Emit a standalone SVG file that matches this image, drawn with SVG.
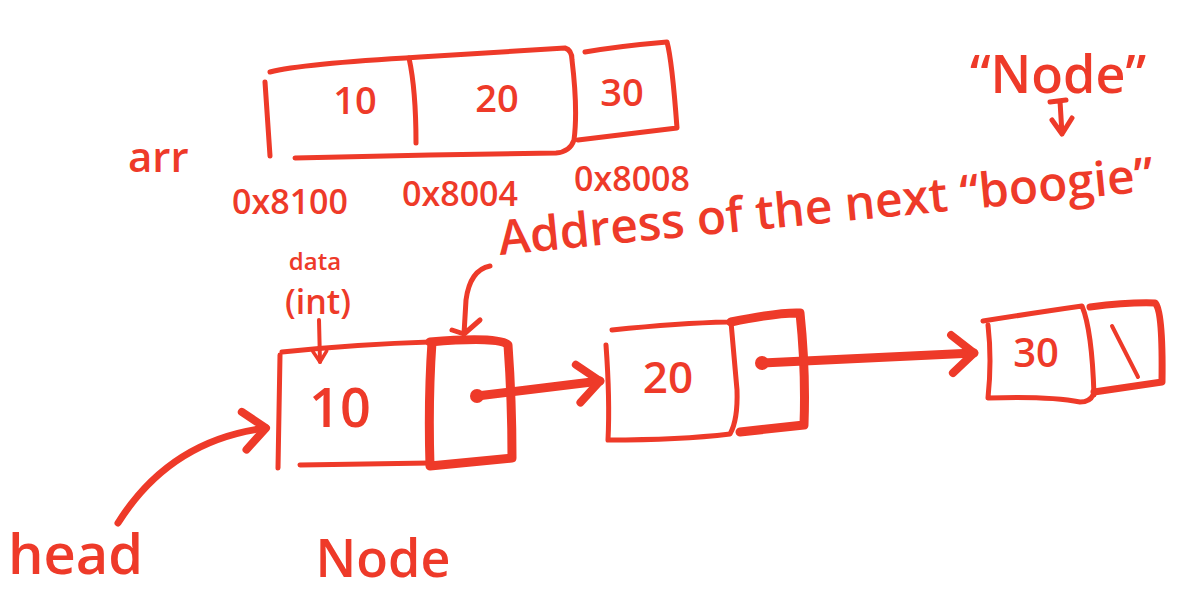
<svg xmlns="http://www.w3.org/2000/svg" width="1199" height="590" viewBox="0 0 1199 590">
<style>
.ln{fill:none;stroke:#EE3A29;stroke-linecap:round;stroke-linejoin:round}
.t{fill:#EE3A29;font-family:"Open Sans","Liberation Sans",sans-serif;font-weight:600}
.w4{stroke-width:4}.w5{stroke-width:5}.w7{stroke-width:7}.w9{stroke-width:9}
</style>
<defs>
<marker id="ah" markerUnits="userSpaceOnUse" markerWidth="40" markerHeight="50" refX="30" refY="25" orient="auto" viewBox="0 0 40 50">
<path d="M8,6 L30,25 L8,44" fill="none" stroke="#EE3A29" stroke-width="8" stroke-linecap="round" stroke-linejoin="round"/>
</marker>
<marker id="ahs" markerUnits="userSpaceOnUse" markerWidth="20" markerHeight="20" refX="15" refY="10" orient="auto" viewBox="0 0 20 20">
<path d="M4,3 L15,10 L4,17" fill="none" stroke="#EE3A29" stroke-width="3.5" stroke-linecap="round" stroke-linejoin="round"/>
</marker>
</defs>
<rect width="1199" height="590" fill="#FFFFFF"/>

<g id="array">
<path class="ln w5" d="M270,72 Q300,64 420,57 L565,48 Q572,50 572,60 Q578,110 574,140 Q570,152 556,153 L430,155 L295,158"/>
<path class="ln w5" d="M265,82 L270,156"/>
<path class="ln w5" d="M409,58 Q416,90 416,143"/>
<path class="ln w5" d="M585,52 Q620,46 667,42 Q672,60 677,128 L578,140"/>
<text class="t" x="355" y="114" font-size="38" text-anchor="middle">10</text>
<text class="t" x="497" y="112" font-size="38" text-anchor="middle">20</text>
<text class="t" x="622" y="106" font-size="38" text-anchor="middle">30</text>
<text class="t" x="128" y="172" font-size="42">arr</text>
<text class="t" x="290" y="214" font-size="34" font-weight="bold" text-anchor="middle">0x8100</text>
<text class="t" x="460" y="206" font-size="34" font-weight="bold" text-anchor="middle">0x8004</text>
<text class="t" x="632" y="191" font-size="34" font-weight="bold" text-anchor="middle">0x8008</text>
</g>

<g id="node-label-top">
<text class="t" x="1058" y="93" font-size="52" text-anchor="middle">“Node”</text>
<path class="ln w5" d="M1050,102 L1066,100 M1060,101 L1062,134 M1052,120 L1062,134 L1072,118"/>
<text class="t" transform="translate(500,255) rotate(-5.6)" font-size="48">Address of the next “boogie”</text>
</g>

<g id="node1">
<path class="ln w5" d="M282,352 Q360,344 430,342"/>
<path class="ln w5" d="M280,355 L278,468"/>
<path class="ln w5" d="M300,465 L430,463"/>
<path class="ln w9" d="M430,342 Q500,336 508,345 Q512,400 512,458 L430,466 Q428,400 432,342"/>
<text class="t" x="340" y="427" font-size="54" text-anchor="middle">10</text>
<circle cx="477" cy="396" r="7" fill="#EE3A29"/>
<text class="t" x="315" y="270" font-size="24" text-anchor="middle">data</text>
<text class="t" x="318" y="314" font-size="34" text-anchor="middle">(int)</text>
<text class="t" x="383" y="577" font-size="52" text-anchor="middle">Node</text>
</g>

<g id="node2">
<path class="ln w5" d="M612,330 Q680,323 728,322 L740,320"/>
<path class="ln w5" d="M606,345 Q610,400 608,440 Q680,440 730,434 Q738,420 737,390 L731,322"/>
<path class="ln w9" d="M731,322 Q780,312 800,313 Q806,370 804,425 L740,432"/>
<text class="t" x="668" y="393" font-size="44" text-anchor="middle">20</text>
<circle cx="762" cy="363" r="7" fill="#EE3A29"/>
</g>

<g id="node3">
<path class="ln w5" d="M983,321 Q1040,312 1082,306 Q1092,330 1094,395"/>
<path class="ln w5" d="M988,325 Q992,360 988,398 Q1050,396 1080,402 Q1090,402 1093,395"/>
<path class="ln w7" d="M1090,307 Q1130,302 1155,303 Q1163,310 1162,382 L1094,392"/>
<text class="t" x="1036" y="367" font-size="40" text-anchor="middle">30</text>
<path class="ln w4" d="M1112,326 L1138,377"/>
</g>

<g id="connectors">
<path class="ln w9" d="M477,396 L600,381" marker-end="url(#ah)"/>
<path class="ln w9" d="M762,363 L974,353" marker-end="url(#ah)"/>
<path class="ln w7" d="M118,523 Q170,440 266,428" marker-end="url(#ah)"/>
<path class="ln w4" d="M319,320 L320,362" marker-end="url(#ahs)"/>
<path class="ln w5" d="M490,266 Q470,270 466,300 L464,334 M452,330 L464,334 L480,320"/>
</g>
<g id="head">
<text class="t" x="8" y="574" font-size="56">head</text>
</g>
</svg>
